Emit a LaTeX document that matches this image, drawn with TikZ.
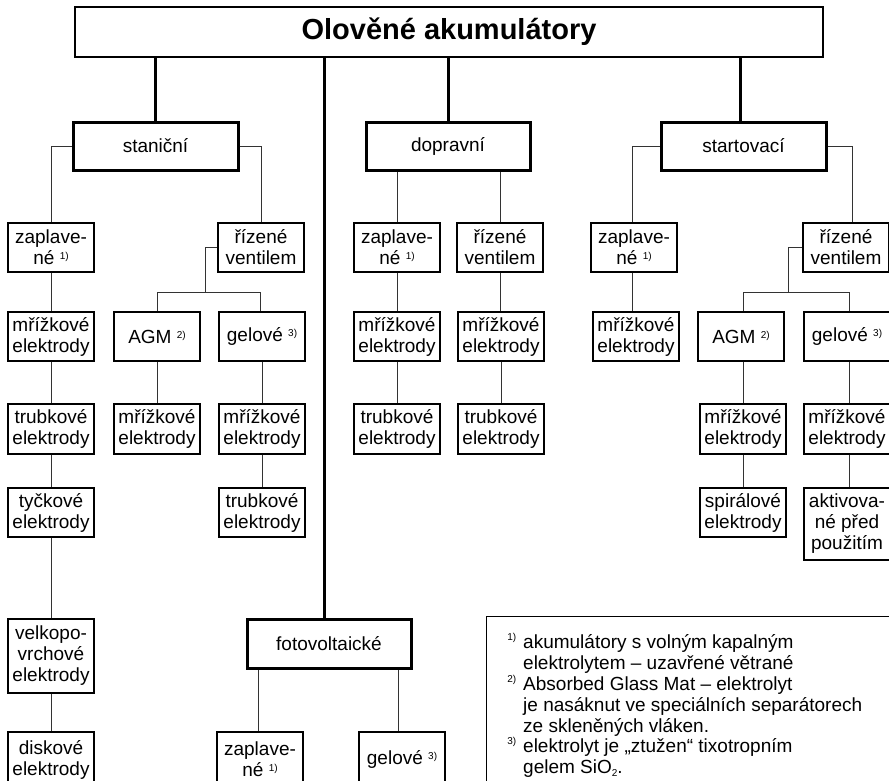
\documentclass[tikz,border=0pt]{standalone}
\usepackage{fontspec}
\setmainfont{Liberation Sans}
\newcommand{\boxfont}{\fontsize{19}{21}\selectfont}
\newcommand{\fnm}[1]{\raisebox{5pt}{\fontsize{10}{10}\selectfont #1}}
\newcommand{\lsup}[1]{\raisebox{8pt}{\fontsize{10}{10}\selectfont #1}}
\newcommand{\bx}[7][box]{\node[#1, minimum width={#5-#3}, minimum height={#6-#4}] (#2) at ({(#3+#5)/2},{(#4+#6)/2}) {#7};}
\tikzset{
  box/.style={draw, line width=1.2pt, inner sep=0pt, align=center, font=\boxfont},
  thickbox/.style={box, line width=3pt},
  titlebox/.style={box, font=\fontsize{29}{32}\selectfont\bfseries},
  link/.style={line width=1pt, draw=black!80},
  trunk/.style={line width=3pt},
  legtext/.style={inner sep=0pt, anchor=base west, font=\boxfont}
}
\begin{document}
\begin{tikzpicture}[x=1pt,y=-1pt]
\useasboundingbox (0,0) rectangle (889,780);
\clip (0,0) rectangle (889,780);
\fill[white] (0,0) rectangle (889,780);

% title
\bx[titlebox]{title}{75}{7}{823}{57}{Olověné akumulátory}

% level 1
\bx[thickbox]{stan}{73}{122}{238}{170}{staniční}
\bx[thickbox]{dopr}{366}{122}{530}{170}{dopravní}
\bx[thickbox]{start}{661}{122}{826}{170}{startovací}
\bx[thickbox]{foto}{247}{619}{411}{668}{fotovoltaické}

% stanicni
\bx{zap1}{8}{223}{94}{272}{zaplave-\\né \fnm{1)}}
\bx{mriz1}{8}{312}{94}{361}{mřížkové\\elektrody}
\bx{trub1}{8}{404}{94}{454}{trubkové\\elektrody}
\bx{tyc1}{8}{488}{94}{537}{tyčkové\\elektrody}
\bx{velk1}{8}{619}{94}{693}{velkopo-\\vrchové\\elektrody}
\bx{disk1}{8}{732}{94}{787}{diskové\\elektrody}
\bx{riz1}{218}{223}{304}{272}{řízené\\ventilem}
\bx{agm1}{114}{312}{200}{361}{AGM \fnm{2)}}
\bx{gel1}{219}{312}{305}{361}{gelové \fnm{3)}}
\bx{mriz2}{114}{404}{200}{454}{mřížkové\\elektrody}
\bx{mriz3}{219}{404}{305}{454}{mřížkové\\elektrody}
\bx{trub2}{219}{488}{305}{537}{trubkové\\elektrody}

% dopravni
\bx{zap2}{354}{223}{440}{272}{zaplave-\\né \fnm{1)}}
\bx{mriz4}{354}{312}{440}{361}{mřížkové\\elektrody}
\bx{trub3}{354}{404}{440}{454}{trubkové\\elektrody}
\bx{riz2}{457}{223}{543}{272}{řízené\\ventilem}
\bx{mriz5}{458}{312}{544}{361}{mřížkové\\elektrody}
\bx{trub4}{458}{404}{544}{454}{trubkové\\elektrody}

% startovaci
\bx{zap3}{591}{223}{677}{272}{zaplave-\\né \fnm{1)}}
\bx{mriz6}{593}{312}{679}{361}{mřížkové\\elektrody}
\bx{riz3}{803}{223}{889}{272}{řízené\\ventilem}
\bx{agm2}{698}{312}{784}{361}{AGM \fnm{2)}}
\bx{gel2}{804}{312}{890}{361}{gelové \fnm{3)}}
\bx{mriz7}{700}{404}{786}{454}{mřížkové\\elektrody}
\bx{spir}{700}{488}{786}{537}{spirálové\\elektrody}
\bx{mriz8}{804}{404}{890}{454}{mřížkové\\elektrody}
\bx{aktiv}{804}{488}{890}{560}{aktivova-\\né před\\použitím}

% fotovoltaicke
\bx{zap4}{217}{732}{303}{787}{zaplave-\\né \fnm{1)}}
\bx{gel3}{359}{732}{445}{787}{gelové \fnm{3)}}

% trunks
\coordinate (xc) at (324,0);
\draw[trunk] (stan.north) -- (stan.north |- title.south);
\draw[trunk] (dopr.north) -- (dopr.north |- title.south);
\draw[trunk] ([xshift=-3pt]start.north) -- ([xshift=-3pt]start.north |- title.south);
\draw[trunk] (xc |- title.south) -- (xc |- foto.north);

% stanicni links
\draw[link] (stan.west) -| (zap1.north);
\draw[link] (stan.east) -| (riz1.north);
\draw[link] (zap1.south) -- (mriz1.north);
\draw[link] (mriz1.south) -- (trub1.north);
\draw[link] (trub1.south) -- (tyc1.north);
\draw[link] (tyc1.south) -- (velk1.north);
\draw[link] (velk1.south) -- (disk1.north);
\coordinate (j1) at (205,292);
\draw[link] (riz1.west) -| (j1);
\draw[link] (agm1.north) |- ([xshift=-2pt]gel1.north |- j1) -- ([xshift=-2pt]gel1.north);
\draw[link] (mriz2.north) -- (mriz2.north |- agm1.south);
\draw[link] (mriz3.north) -- (mriz3.north |- gel1.south);
\draw[link] (mriz3.south) -- (trub2.north);

% dopravni links
\draw[link] (zap2.north) -- (zap2.north |- dopr.south);
\draw[link] (riz2.north) -- (riz2.north |- dopr.south);
\draw[link] (zap2.south) -- (zap2.south |- mriz4.north);
\draw[link] (mriz4.south) -- (trub3.north);
\draw[link] (riz2.south) -- (riz2.south |- mriz5.north);
\draw[link] (mriz5.south) -- (trub4.north);

% startovaci links
\draw[link] (start.west) -| ([xshift=-2pt]zap3.north);
\draw[link] (start.east) -| ([xshift=6pt]riz3.north);
\draw[link] ([xshift=-2pt]zap3.south) -- ([xshift=-2pt]zap3.south |- mriz6.north);
\coordinate (j2) at (788,292);
\draw[link] (riz3.west) -| (j2);
\draw[link] (mriz7.north |- agm2.south) -- (mriz7.north);
\draw[link] ([xshift=2pt]agm2.north) |- ([xshift=2pt]gel2.north |- j2) -- ([xshift=2pt]gel2.north);
\draw[link] ([xshift=2pt]gel2.south) -- ([xshift=2pt]gel2.south |- mriz8.north);
\draw[link] (mriz7.south) -- (spir.north);
\draw[link] ([xshift=2pt]mriz8.south) -- ([xshift=2pt]mriz8.south |- aktiv.north);

% fotovoltaicke links
\draw[link] (zap4.north -| 258,0) -- (258,0 |- foto.south);
\draw[link] (gel3.north -| 398,0) -- (398,0 |- foto.south);

% legend
\node[draw, line width=1.2pt, inner sep=0pt, minimum width=420pt, minimum height=180pt, anchor=north west] (legend) at (486,616) {};
\node[legtext] (l1) at (523,648) {\llap{\lsup{1)}\hspace{7pt}}akumulátory s volným kapalným};
\node[legtext] (l2) at (523,669) {elektrolytem – uzavřené větrané};
\node[legtext] (l3) at (523,690) {\llap{\lsup{2)}\hspace{7pt}}Absorbed Glass Mat – elektrolyt};
\node[legtext] (l4) at (523,711) {je nasáknut ve speciálních separátorech};
\node[legtext] (l5) at (523,732) {ze skleněných vláken.};
\node[legtext] (l6) at (523,752) {\llap{\lsup{3)}\hspace{7pt}}elektrolyt je „ztužen“ tixotropním};
\node[legtext] (l7) at (523,773) {gelem SiO\raisebox{-3pt}{\fontsize{10}{10}\selectfont 2}.};
\end{tikzpicture}
\end{document}
